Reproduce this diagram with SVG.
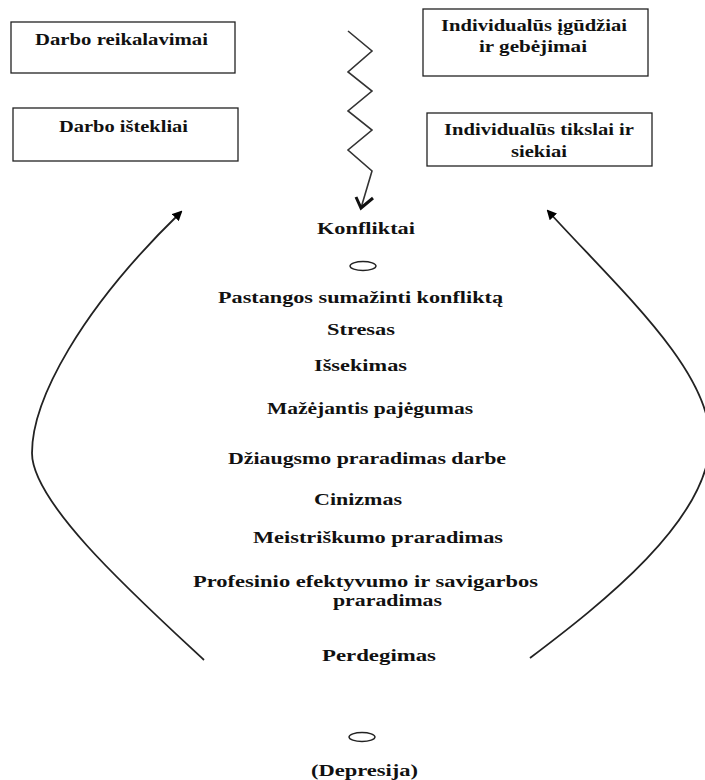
<svg xmlns="http://www.w3.org/2000/svg" width="705" height="780" viewBox="0 0 705 780">
<style>
.box{fill:#fff;stroke:#222;stroke-width:1.3}
.t{font-family:"Liberation Serif","Times New Roman",serif;font-weight:bold;font-size:17.5px;fill:#111}
.ln{fill:none;stroke:#222;stroke-width:1.8}
.zz{fill:none;stroke:#333;stroke-width:1.6;stroke-linejoin:miter}
.ell{fill:none;stroke:#222;stroke-width:1.4}
</style>
<defs>
<marker id="ah" markerWidth="10" markerHeight="10" refX="8" refY="5" orient="auto" markerUnits="userSpaceOnUse" viewBox="0 0 10 10">
<path d="M0,0 L10,5 L0,10 z" fill="#000"/>
</marker>
</defs>
<rect width="705" height="780" fill="#fff"/>
<g id="n-darbo-reikalavimai">
<rect class="box" x="11" y="22" width="224" height="51"/>
<text class="t" x="35" y="45" textLength="173" lengthAdjust="spacingAndGlyphs">Darbo reikalavimai</text>
</g>
<g id="n-darbo-istekliai">
<rect class="box" x="13" y="108" width="225" height="53"/>
<text class="t" x="59" y="132" textLength="129" lengthAdjust="spacingAndGlyphs">Darbo ištekliai</text>
</g>
<g id="n-igudziai">
<rect class="box" x="423" y="9" width="225" height="67"/>
<text class="t" x="441" y="31" textLength="186" lengthAdjust="spacingAndGlyphs">Individualūs įgūdžiai</text>
<text class="t" x="479" y="52" textLength="108" lengthAdjust="spacingAndGlyphs">ir gebėjimai</text>
</g>
<g id="n-tikslai">
<rect class="box" x="427" y="113" width="225" height="53"/>
<text class="t" x="444" y="135" textLength="190" lengthAdjust="spacingAndGlyphs">Individualūs tikslai ir</text>
<text class="t" x="511" y="157" textLength="56" lengthAdjust="spacingAndGlyphs">siekiai</text>
</g>
<g id="connectors">
<polyline class="zz" points="348,31 372,51 348,72 372,91 348,111 372,130 348,150 372,171 361,208"/>
<polyline fill="none" stroke="#111" stroke-width="3" stroke-linejoin="miter" points="356,197 361,208 373,198"/>
<path class="ln" d="M204,660 C134,595 32,503 32,453 C32,400 80,310 181,212" marker-end="url(#ah)"/>
<path class="ln" d="M530,658 C600,605 710,520 710,440 C710,370 620,290 548,211" marker-end="url(#ah)"/>
</g>
<g id="n-konfliktai"><text class="t" x="317" y="234" textLength="98" lengthAdjust="spacingAndGlyphs">Konfliktai</text></g>
<g id="n-ellipse1"><ellipse class="ell" cx="363" cy="266" rx="13" ry="4.5"/></g>
<g id="n-pastangos"><text class="t" x="218" y="303" textLength="285" lengthAdjust="spacingAndGlyphs">Pastangos sumažinti konfliktą</text></g>
<g id="n-stresas"><text class="t" x="327" y="335" textLength="68" lengthAdjust="spacingAndGlyphs">Stresas</text></g>
<g id="n-issekimas"><text class="t" x="314" y="371" textLength="93" lengthAdjust="spacingAndGlyphs">Išsekimas</text></g>
<g id="n-mazejantis"><text class="t" x="267" y="414" textLength="206" lengthAdjust="spacingAndGlyphs">Mažėjantis pajėgumas</text></g>
<g id="n-dziaugsmo"><text class="t" x="228" y="464" textLength="278" lengthAdjust="spacingAndGlyphs">Džiaugsmo praradimas darbe</text></g>
<g id="n-cinizmas"><text class="t" x="314" y="505" textLength="88" lengthAdjust="spacingAndGlyphs">Cinizmas</text></g>
<g id="n-meistriskumo"><text class="t" x="253" y="543" textLength="250" lengthAdjust="spacingAndGlyphs">Meistriškumo praradimas</text></g>
<g id="n-profesinio">
<text class="t" x="193" y="587" textLength="345" lengthAdjust="spacingAndGlyphs">Profesinio efektyvumo ir savigarbos</text>
<text class="t" x="333" y="606" textLength="109" lengthAdjust="spacingAndGlyphs">praradimas</text>
</g>
<g id="n-perdegimas"><text class="t" x="322" y="661" textLength="114" lengthAdjust="spacingAndGlyphs">Perdegimas</text></g>
<g id="n-ellipse2"><ellipse class="ell" cx="362" cy="737" rx="13" ry="4.5"/></g>
<g id="n-depresija"><text class="t" x="311" y="776" textLength="107" lengthAdjust="spacingAndGlyphs">(Depresija)</text></g>
</svg>
